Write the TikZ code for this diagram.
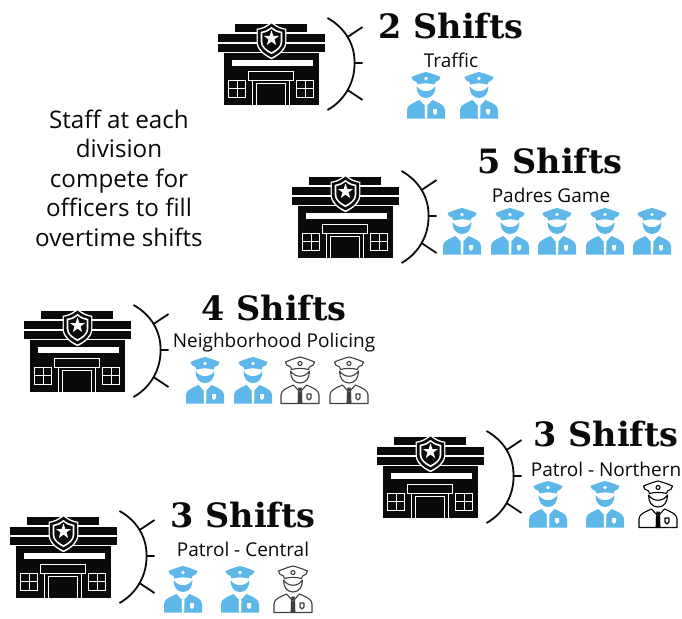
\documentclass[tikz,border=0pt]{standalone}
\usepackage{fontspec}
\setmainfont{Open Sans}
\newfontfamily\titlefont[Scale=1]{DejaVu Serif Bold}
\definecolor{copblue}{HTML}{5DB7E8}
\definecolor{ink}{HTML}{0A0A0A}
\tikzset{
  titletext/.style={font=\titlefont\fontsize{33.5}{36}\selectfont, text=ink, inner sep=0pt},
  labeltext/.style={font=\fontsize{19}{22}\selectfont, text=ink, inner sep=0pt},
  introtext/.style={font=\fontsize{24.2}{29.5}\selectfont, text=ink, align=center, inner sep=0pt},
  whiteline/.style={draw=white, line width=1pt},
  inkbox/.style={fill=ink, draw=white, line width=0.8pt},
  arcline/.style={draw=ink, line width=1.8pt},
}
\newcommand{\shieldpath}[1]{% shield in station coordinates, scale factor #1
  (54,{17.5-17.5*#1}) .. controls ({54-5*#1},{17.5-13.5*#1}) and ({54-9*#1},{17.5-11.5*#1}) .. ({54-14*#1},{17.5-11*#1})
  -- ({54-14*#1},{17.5+1*#1}) .. controls ({54-14*#1},{17.5+9*#1}) and ({54-7*#1},{17.5+14*#1}) .. (54,{17.5+17.5*#1})
  .. controls ({54+7*#1},{17.5+14*#1}) and ({54+14*#1},{17.5+9*#1}) .. ({54+14*#1},{17.5+1*#1})
  -- ({54+14*#1},{17.5-11*#1}) .. controls ({54+9*#1},{17.5-11.5*#1}) and ({54+5*#1},{17.5-13.5*#1}) .. cycle}
\newcommand{\station}[2]{%
\begin{scope}[shift={(#1,#2)}]
  \fill[ink] (6,27) rectangle (101,82);
  \path[inkbox] (17,0) rectangle (90,9.5);
  \path[inkbox] (0,10) rectangle (107.5,19.5);
  \path[inkbox] (0,20) rectangle (107.5,29);
  \fill[white] (14,37) rectangle (95,43);
  \path[whiteline, fill=ink] (31,48) rectangle (76,57);
  \path[whiteline] (35,57) -- (35,82) (72,57) -- (72,82);
  \path[whiteline] (39,60.5) rectangle (68,82.5);
  % windows
  \path[draw=white, line width=1pt] (11,57) rectangle (28,74) (19.5,57) -- (19.5,74) (11,65.5) -- (28,65.5);
  \path[draw=white, line width=1pt] (79,57) rectangle (96,74) (87.5,57) -- (87.5,74) (79,65.5) -- (96,65.5);
  % shield
  \fill[white] \shieldpath{1.07};
  \fill[ink] \shieldpath{0.97};
  \fill[white] \shieldpath{0.78};
  \fill[ink] \shieldpath{0.66};
  \fill[white] (54,7.5) -- (55.9,13) -- (61.5,13) -- (57,16.4) -- (58.7,22) -- (54,18.6) -- (49.3,22) -- (51,16.4) -- (46.5,13) -- (52.1,13) -- cycle;
  % arc with ticks
  \coordinate (arcTop) at (110,-5);
  \coordinate (arcMid) at (137,40);
  \coordinate (arcBot) at (110,87);
  \path[arcline, fill=none] (arcTop) .. controls (128,5) and (137.5,22) .. (arcMid) .. controls (137.5,58) and (128,77) .. (arcBot);
  \path[arcline] (130,14) -- (145,4) (137,40) -- (145,40) (130,67) -- (145,77);
\end{scope}}
\newcommand{\copshape}[4]{% x, top y, fill colour, detail style
\begin{scope}[shift={(#1,#2)}]
  % body
  \path[#3] (-19,46.5) -- (-19,38) .. controls (-19,33) and (-13,31) .. (-6.5,28) -- (-1.5,33.5) -- (-1.5,46.5) -- cycle;
  \path[#3] (19,46.5) -- (19,38) .. controls (19,33) and (13,31) .. (6.5,28) -- (1.5,33.5) -- (1.5,46.5) -- cycle;
  \path[#3] (-1.3,33) -- (1.3,33) -- (1.8,46.5) -- (-1.8,46.5) -- cycle;
  % face
  \path[#3] (-9.5,14) .. controls (-9.5,21) and (-6,26) .. (0,26) .. controls (6,26) and (9.5,21) .. (9.5,14) .. controls (5,21) and (-5,21) .. cycle;
  % cap
  \path[#3] (0,0) .. controls (4,1) and (10,3) .. (14.5,5) .. controls (15,7.5) and (12,9) .. (9.5,10) -- (8.5,12.5) .. controls (3,11) and (-3,11) .. (-8.5,12.5) -- (-9.5,10) .. controls (-12,9) and (-15,7.5) .. (-14.5,5) .. controls (-10,3) and (-4,1) .. (0,0) -- cycle;
  #4
\end{scope}}
\newcommand{\bluecop}[2]{\copshape{#1}{#2}{fill=copblue}{%
  \fill[white] (0,6.5) circle (1.8);
  \fill[white] (7,37) -- (11,37) -- (11,41) -- (9,43) -- (7,41) -- cycle;
  \fill[white] (-0.9,32) -- (0.9,32) -- (1.1,46.5) -- (-1.1,46.5) -- cycle;
}}
\newcommand{\linecop}[3]{\copshape{#1}{#2}{draw=#3, fill=white, line width=1.1pt, line join=round}{%
  \draw[#3, line width=1.1pt, line join=round] (0,6.5) circle (2);
  \draw[#3, line width=1.1pt, line join=round] (7,37) -- (11,37) -- (11,41) -- (9,43) -- (7,41) -- cycle;
  \fill[#3] (-2,30.5) -- (2,30.5) -- (1,34.5) -- (-1,34.5) -- cycle;
  \draw[#3, line width=1.1pt] (0,34.5) -- (0,46.5);
}}
\begin{document}
\begin{tikzpicture}[x=1pt,y=-1pt]
\path[use as bounding box, fill=white] (0,0) rectangle (682,618);

\station{217.5}{23}
\station{291.5}{176}
\station{23.5}{310}
\station{376.5}{436}
\station{9.5}{516}

\node[titletext] (t1) at (451,26) {2 Shifts};
\node[labeltext] (l1) at (451,60) {Traffic};
\node[titletext] (t2) at (550,161) {5 Shifts};
\node[labeltext] (l2) at (551,195) {Padres Game};
\node[titletext] (t3) at (274,308) {4 Shifts};
\node[labeltext] (l3) at (274,343) {Neighborhood Policing};
\node[titletext] (t4) at (606,434) {3 Shifts};
\node[labeltext] (l4) at (606,469) {Patrol - Northern};
\node[titletext] (t5) at (243,515) {3 Shifts};
\node[labeltext] (l5) at (243,549) {Patrol - Central};
\node[introtext] (intro) at (119,178) {Staff at each\\division\\compete for\\officers to fill\\overtime shifts};

\bluecop{426}{72}\bluecop{479}{72}
\bluecop{462}{208}\bluecop{510}{208}\bluecop{557}{208}\bluecop{605}{208}\bluecop{652}{208}
\bluecop{205}{357}\bluecop{253}{357}
\linecop{300}{357}{black!75}\linecop{349}{357}{black!75}
\bluecop{548}{481}\bluecop{605}{481}\linecop{658}{481}{black}
\bluecop{183}{566}\bluecop{240}{566}\linecop{293}{566}{black!75}
\end{tikzpicture}
\end{document}
